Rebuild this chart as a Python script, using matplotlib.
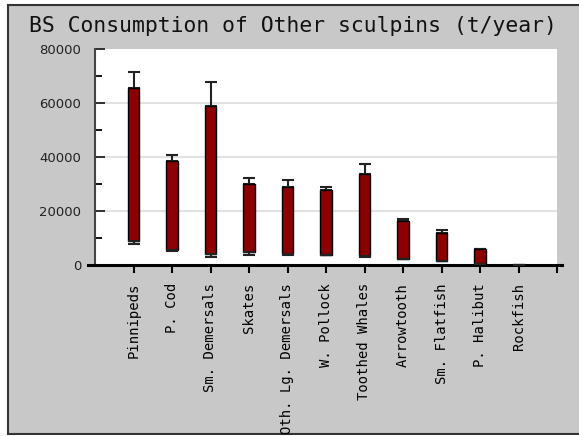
import matplotlib; matplotlib.use("Agg")
import matplotlib.pyplot as plt
from matplotlib.patches import Rectangle
import numpy as np

# predators of Other sculpins, Bering Sea
predators = ["Pinnipeds", "P. Cod", "Sm. Demersals", "Skates", "Oth. Lg. Demersals",
             "W. Pollock", "Toothed Whales", "Arrowtooth", "Sm. Flatfish", "P. Halibut", "Rockfish"]
bar_low = [9000, 5500, 4100, 4900, 4000, 3700, 3200, 2200, 1600, 400, 0]
bar_high = [65600, 38600, 58800, 30000, 29000, 27900, 33800, 16200, 11800, 5900, 0]
err_low = [7600, 5300, 3100, 3700, 3700, 3600, 3100, 2100, 1500, 300, 0]
err_high = [71500, 40700, 67700, 32300, 31600, 29000, 37500, 17100, 13100, 6000, 0]

W, H = 579, 436
fig = plt.figure(figsize=(W / 100, H / 100), dpi=100, facecolor="white")
fig.patches.append(Rectangle((8 / W, 1 - 434 / H), 1.0, (434 - 5) / H, transform=fig.transFigure,
                             facecolor="#c8c8c8", edgecolor="#333333", lw=1.5, zorder=-5))

ax = fig.add_axes([95 / W, 1 - 265 / H, 462 / W, 216 / H], zorder=2)
ax.set_facecolor("white")

x = np.arange(1, len(predators) + 1)
lo = np.array(bar_low); hi = np.array(bar_high)
elo = np.array(err_low); ehi = np.array(err_high)
lws = [1.0 if h > l else 0 for l, h in zip(bar_low, bar_high)]

ax.bar(x, hi - lo, bottom=lo, width=0.31, color="#8b0000", edgecolor="black", lw=lws, zorder=3)
ax.errorbar(x, hi, yerr=[np.zeros_like(hi), ehi - hi], fmt="none", ecolor="#222222",
            elinewidth=1.5, capsize=4.5, capthick=1.5, zorder=2)
ax.errorbar(x, lo, yerr=[lo - elo, np.zeros_like(lo)], fmt="none", ecolor="#222222",
            elinewidth=1.5, capsize=4.5, capthick=1.5, zorder=4)

ax.set_xlim(0, 12)
ax.set_ylim(0, 80000)
for g in [20000, 40000, 60000]:
    ax.axhline(g, color="#e2e2e2", lw=1.5, zorder=1)

ax.spines["top"].set_visible(False)
ax.spines["right"].set_visible(False)
ax.spines["left"].set_color("#444444"); ax.spines["left"].set_linewidth(1.5)
ax.spines["bottom"].set_linewidth(2.2)
ax.spines["bottom"].set_bounds(-0.18, 12.13)

ax.set_yticks([0, 20000, 40000, 60000, 80000])
ax.set_yticks(np.arange(10000, 80000, 20000), minor=True)
ax.set_yticklabels(["0", "20000", "40000", "60000", "80000"], fontsize=9.5, color="#222222")
ax.tick_params(axis="y", which="major", direction="in", length=7, width=1.3, pad=10, colors="#222222")
ax.tick_params(axis="y", which="minor", direction="in", length=5, width=1.3)
ax.tick_params(axis="y", which="both", labelcolor="#222222")

ax.set_xticks(list(x) + [12])
ax.set_xticklabels(predators + [""], rotation=90, family="DejaVu Sans Mono", fontsize=10,
                   va="top", ha="center")
ax.tick_params(axis="x", direction="out", length=6, width=1.5, pad=7)

fig.text(293 / W, 1 - 26 / H, "BS Consumption of Other sculpins (t/year)",
         family="DejaVu Sans Mono", fontsize=15.4, ha="center", va="center", color="#111111")

fig.savefig("out.png", dpi=100)
